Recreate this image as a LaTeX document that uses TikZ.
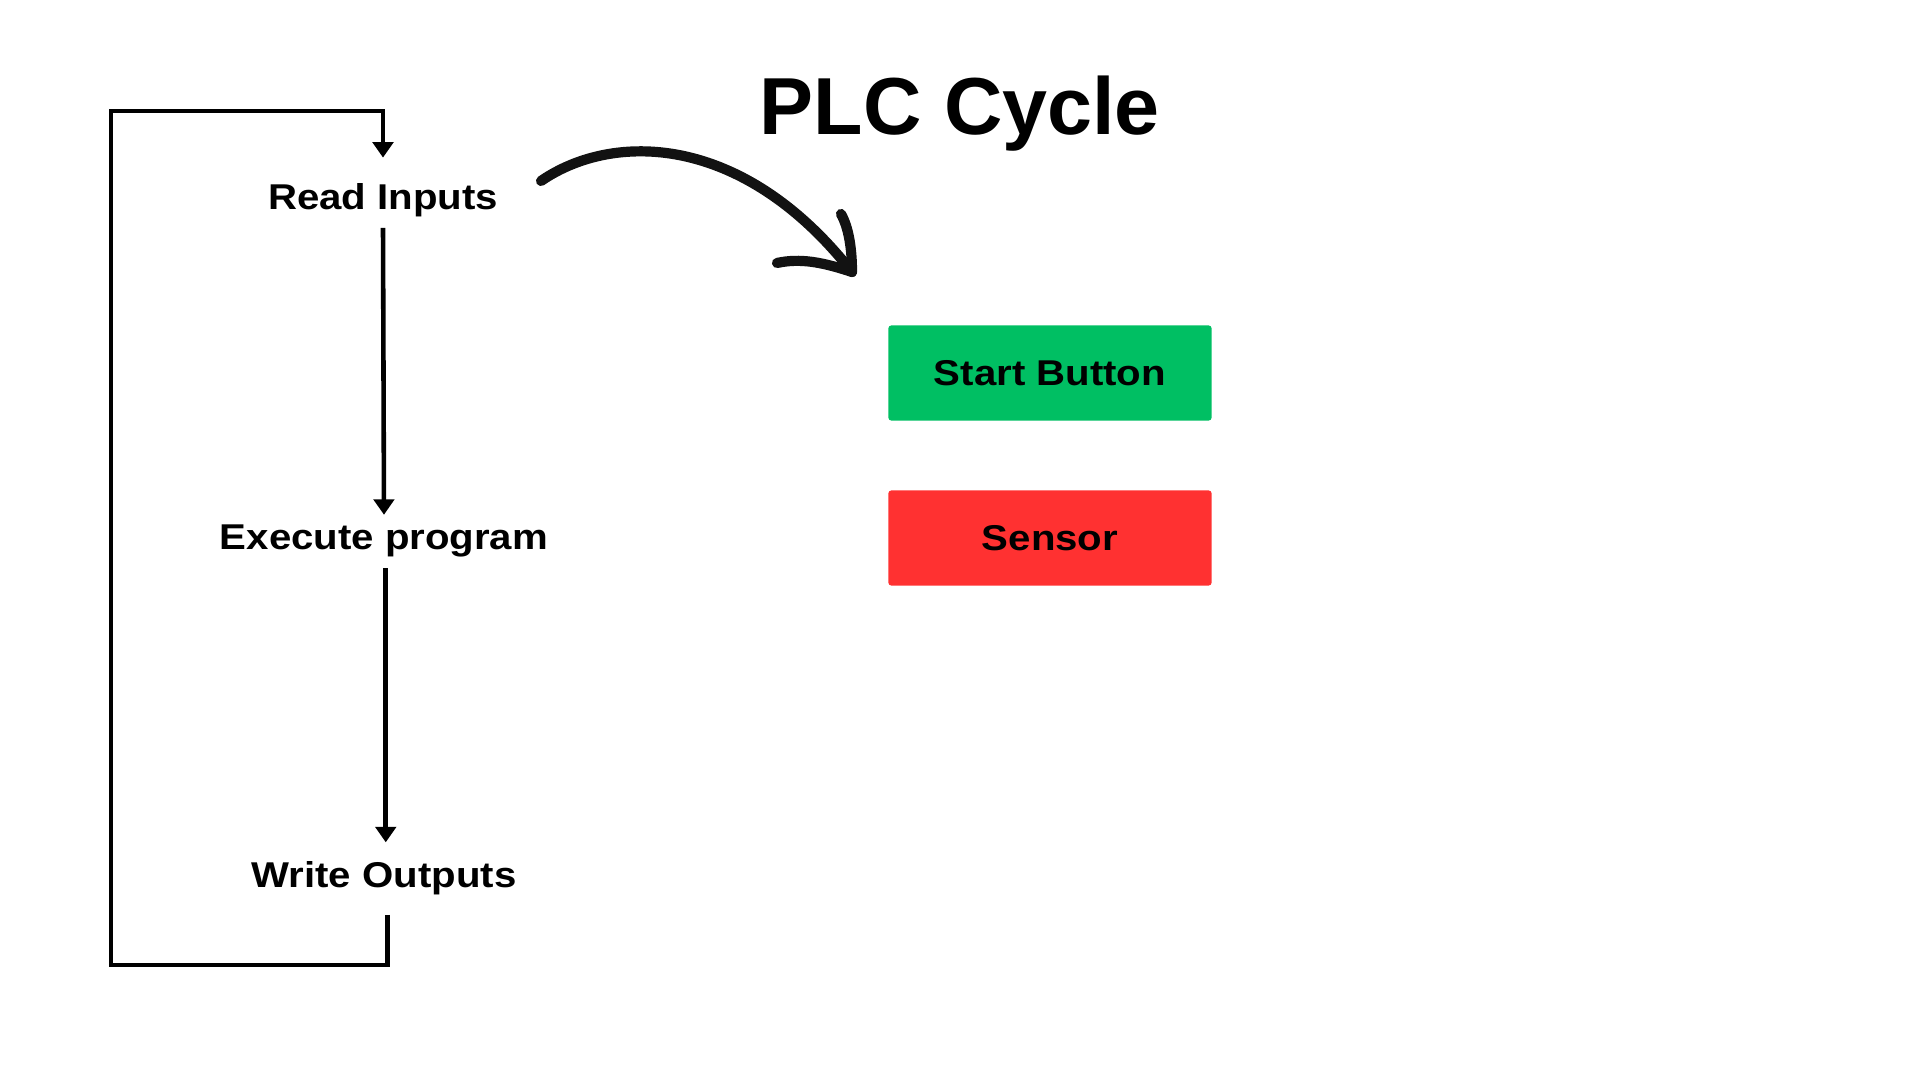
\documentclass[tikz,border=0pt]{standalone}
\usepackage{fontspec}
\setmainfont{Liberation Sans}
\newfontfamily\stepfont{Liberation Sans}[FakeStretch=1.12]
\usetikzlibrary{arrows.meta}

\definecolor{startgreen}{HTML}{00BF63}
\definecolor{sensorred}{HTML}{FF3131}

\tikzset{
	steplabel/.style = {font=\stepfont\bfseries\fontsize{10.2}{12}\selectfont, inner sep=0pt, outer sep=3pt},
	flow/.style      = {->, line width=1.3pt},
	inputbox/.style  = {font=\stepfont\bfseries\fontsize{10.2}{12}\selectfont, minimum width=3.23cm, minimum height=0.95cm, rounded corners=0.8pt, inner sep=0pt},
	sketch/.style    = {line width=2.9pt, line cap=round, line join=round, color=black!93}
}

\begin{document}
\begin{tikzpicture}[x=0.01cm, y=-0.01cm, > = {Triangle[width=5.8pt,length=4.4pt]}]
	\useasboundingbox (0,0) rectangle (1920,1080);
	
	\node[font=\bfseries\fontsize{23}{27}\selectfont, anchor=base] (title) at (960,135) {PLC Cycle};
	
	\node[steplabel, anchor=base] (read) at (383,210) {Read Inputs};
	\node[steplabel, anchor=base] (exec) at (384,550) {Execute program};
	\node[steplabel, anchor=base] (write) at (384,888) {Write Outputs};
	
	\node[inputbox, fill=startgreen] (start) at (1050,373) {Start Button};
	\node[inputbox, fill=sensorred] (sensor) at (1050,538) {Sensor};
	
	\draw[flow] (read.south) -- (exec.north);
	\draw[flow, shorten >=2.6pt] ([xshift=0.5pt]exec.south) -- ([xshift=0.5pt]write.north);
	% loop back from outputs to inputs
	\draw[flow] ([xshift=1pt,yshift=-2.5pt]write.south) -- ([xshift=1pt]write.south |- 0,965) -| (111,111) -| ([yshift=4.5pt]read.north);
	
	% hand drawn arrow towards the inputs
	\coordinate (c1) at (541,181);
	\coordinate (tip) at (852,272);
	\draw[sketch] (c1) .. controls (612,132) and (742,132) .. (tip);
	\draw[sketch] (tip) .. controls (822,262) and (800,258) .. (777,263);
	\draw[sketch] (tip) .. controls (852,250) and (849,228) .. (841,214);
\end{tikzpicture}
\end{document}
